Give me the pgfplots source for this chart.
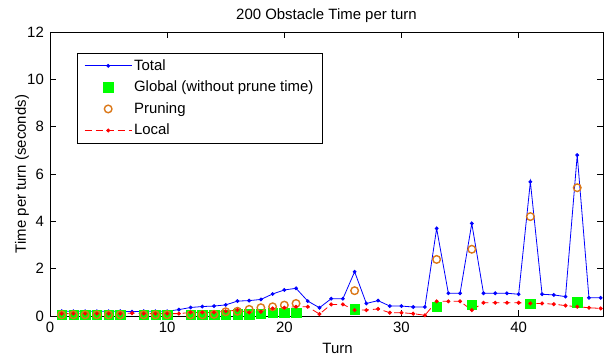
\documentclass[border=0pt]{standalone}
\usepackage{pgfplots}
\pgfplotsset{compat=1.18}
\usepackage{fontspec}
\setmainfont{Liberation Sans}
\definecolor{orng}{rgb}{0.86,0.47,0.1}
\definecolor{mgreen}{rgb}{0,1,0}
\begin{document}
\fontsize{15}{17}\selectfont
\begin{tikzpicture}
\begin{axis}[
  scale only axis, width=553bp, height=284bp,
  xmin=0, xmax=47.2, ymin=0, ymax=12,
  xtick={0,10,20,30,40}, ytick={0,2,4,6,8,10,12},
  tick align=inside, tick pos=both, major tick length=6bp,
  axis line style={black, line width=0.6bp},
  every tick/.style={black, line width=0.6bp},
  /pgf/number format/assume math mode=true,
  tick label style={font=\fontsize{15}{17}\selectfont},
  xticklabel style={yshift=-1bp},
  yticklabel style={xshift=-1bp},
  title={200 Obstacle Time per turn},
  title style={at={(axis description cs:0.5,1)}, anchor=center, yshift=10bp, font=\fontsize{15}{17}\selectfont},
  xlabel={Turn},
  xlabel style={at={(axis description cs:0.52,0)}, anchor=center, yshift=-32bp, font=\fontsize{15}{17}\selectfont},
  ylabel={Time per turn (seconds)},
  ylabel style={at={(axis description cs:-0.0506,0.5)}, anchor=center, font=\fontsize{15}{17}\selectfont},
  legend style={at={(0.0488,0.926)}, anchor=north west, draw=black, line width=0.6bp,
    font=\fontsize{15}{17}\selectfont, row sep=4.5bp, inner xsep=7bp, inner ysep=4bp,
    cells={anchor=west}},
  legend image code/.code={\draw[mark repeat=2,mark phase=2,#1] plot coordinates {(0bp,0bp) (23.5bp,0bp) (47bp,0bp)};},
]
\addplot[blue, line width=0.8bp, mark=*, mark size=1.5bp] coordinates {
(1,0.2)(2,0.2)(3,0.2)(4,0.2)(5,0.2)(6,0.2)(7,0.18)(8,0.2)(9,0.2)(10,0.2)
(11,0.27)(12,0.36)(13,0.4)(14,0.42)(15,0.47)(16,0.63)(17,0.65)(18,0.7)(19,0.93)(20,1.1)
(21,1.17)(22,0.63)(23,0.35)(24,0.73)(25,0.73)(26,1.87)(27,0.53)(28,0.65)(29,0.42)(30,0.42)
(31,0.38)(32,0.38)(33,3.7)(34,0.96)(35,0.96)(36,3.91)(37,0.96)(38,0.96)(39,0.96)(40,0.92)
(41,5.67)(42,0.92)(43,0.89)(44,0.82)(45,6.8)(46,0.77)(47,0.77)};
\addlegendentry{Total}
\addplot[only marks, mark=square*, mark size=4.7bp, mgreen, mark options={draw=mgreen, fill=mgreen}] coordinates {
(1,0.05)(2,0.05)(3,0.05)(4,0.05)(5,0.05)(6,0.05)(8,0.05)(9,0.05)(10,0.05)
(12,0.05)(13,0.05)(14,0.05)(15,0.06)(16,0.08)(17,0.08)(18,0.1)(19,0.15)(20,0.15)(21,0.15)
(26,0.28)(33,0.39)(36,0.49)(41,0.53)(45,0.58)};
\addlegendentry{Global (without prune time)}
\addplot[only marks, mark=o, mark size=3.8bp, orng, mark options={line width=1.4bp}] coordinates {
(1,0.05)(2,0.05)(3,0.05)(4,0.05)(5,0.05)(6,0.05)(8,0.05)(9,0.05)(10,0.05)
(12,0.05)(13,0.05)(14,0.07)(15,0.18)(16,0.2)(17,0.28)(18,0.35)(19,0.39)(20,0.46)(21,0.53)
(26,1.07)(33,2.39)(36,2.82)(41,4.2)(45,5.42)};
\addlegendentry{Pruning}
\addplot[red, line width=0.8bp, dash pattern=on 7bp off 4bp, mark=*, mark size=1.6bp, mark options={solid}] coordinates {
(1,0.1)(2,0.1)(3,0.1)(4,0.1)(5,0.1)(6,0.1)(7,0.12)(8,0.1)(9,0.1)(10,0.1)
(11,0.1)(12,0.15)(13,0.15)(14,0.15)(15,0.2)(16,0.25)(17,0.15)(18,0.18)(19,0.32)(20,0.35)
(21,0.39)(22,0.39)(23,0.08)(24,0.49)(25,0.49)(26,0.25)(27,0.25)(28,0.3)(29,0.14)(30,0.14)
(31,0.1)(32,0.03)(33,0.62)(34,0.62)(35,0.62)(36,0.25)(37,0.56)(38,0.56)(39,0.56)(40,0.56)
(41,0.53)(42,0.53)(43,0.5)(44,0.44)(45,0.39)(46,0.35)(47,0.32)};
\addlegendentry{Local}
\end{axis}
\pgfresetboundingbox
\path ([shift={(-50bp,-44bp)}]current axis.south west) rectangle ([shift={(7bp,32bp)}]current axis.north east);
\end{tikzpicture}
\end{document}
